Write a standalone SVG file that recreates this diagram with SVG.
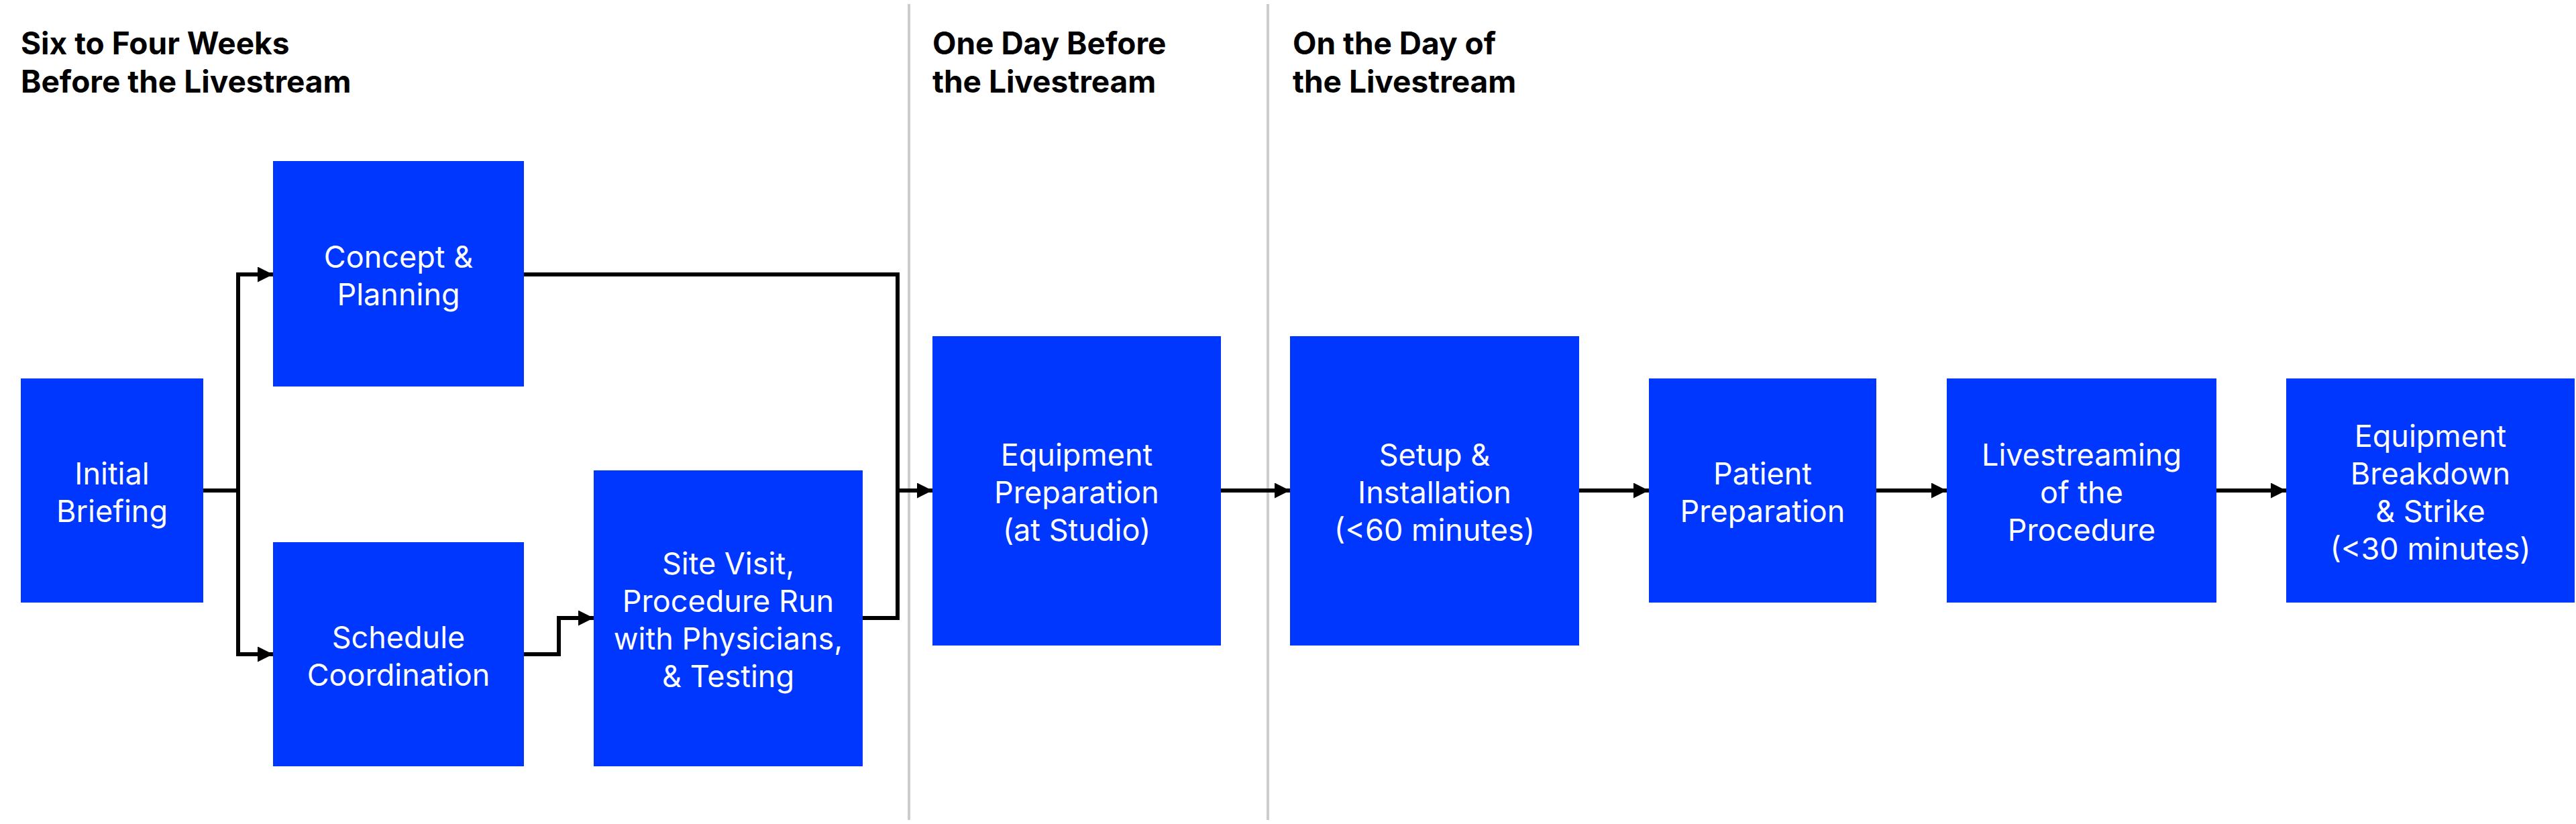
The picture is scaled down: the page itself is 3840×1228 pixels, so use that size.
<svg xmlns="http://www.w3.org/2000/svg" width="3840" height="1228" viewBox="0 0 3840 1228">
<style>
.box{fill:#0037ff}
.t{font-family:Inter,"Noto Sans","Liberation Sans",sans-serif;font-size:45px;fill:#ffffff;text-anchor:middle}
.h{font-family:Inter,"Noto Sans","Liberation Sans",sans-serif;font-size:46px;font-weight:700;fill:#000000}
.div{stroke:#cccccc;stroke-width:4;fill:none}
.c{stroke:#000000;stroke-width:6;fill:none}
</style>
<defs>
<marker id="arr" markerUnits="userSpaceOnUse" markerWidth="23" markerHeight="23" refX="23" refY="11.5" orient="auto" viewBox="0 0 23 23">
<path d="M0,0 L23,11.5 L0,23 Z" fill="#000000"/>
</marker>
</defs>
<rect width="3840" height="1228" fill="#ffffff"/>
<g id="dividers">
<line class="div" x1="1355" y1="6" x2="1355" y2="1222"/>
<line class="div" x1="1890" y1="6" x2="1890" y2="1222"/>
</g>
<g id="headers">
<text class="h" x="31" y="81">Six to Four Weeks</text>
<text class="h" x="31" y="138">Before the Livestream</text>
<text class="h" x="1390" y="81">One Day Before</text>
<text class="h" x="1390" y="138">the Livestream</text>
<text class="h" x="1927" y="81">On the Day of</text>
<text class="h" x="1927" y="138">the Livestream</text>
</g>
<g id="connectors">
<polyline class="c" points="303,731 355,731"/>
<polyline class="c" points="355,731 355,409 407,409" marker-end="url(#arr)"/>
<polyline class="c" points="355,731 355,975 407,975" marker-end="url(#arr)"/>
<polyline class="c" points="781,409 1338,409 1338,921"/>
<polyline class="c" points="781,975 833,975 833,921 885,921" marker-end="url(#arr)"/>
<polyline class="c" points="1286,921 1338,921 1338,731 1390,731" marker-end="url(#arr)"/>
<line class="c" x1="1820" y1="731" x2="1923" y2="731" marker-end="url(#arr)"/>
<line class="c" x1="2354" y1="731" x2="2458" y2="731" marker-end="url(#arr)"/>
<line class="c" x1="2797" y1="731" x2="2902" y2="731" marker-end="url(#arr)"/>
<line class="c" x1="3304" y1="731" x2="3408" y2="731" marker-end="url(#arr)"/>
</g>
<g id="initial-briefing">
<rect class="box" x="31" y="564" width="272" height="334"/>
<text class="t" x="167" y="722">Initial</text>
<text class="t" x="167" y="778">Briefing</text>
</g>
<g id="concept-planning">
<rect class="box" x="407" y="240" width="374" height="336"/>
<text class="t" x="594" y="399">Concept &amp;</text>
<text class="t" x="594" y="455">Planning</text>
</g>
<g id="schedule-coordination">
<rect class="box" x="407" y="808" width="374" height="334"/>
<text class="t" x="594" y="966">Schedule</text>
<text class="t" x="594" y="1022">Coordination</text>
</g>
<g id="site-visit">
<rect class="box" x="885" y="701" width="401" height="441"/>
<text class="t" x="1085.5" y="856">Site Visit,</text>
<text class="t" x="1085.5" y="912">Procedure Run</text>
<text class="t" x="1085.5" y="968">with Physicians,</text>
<text class="t" x="1085.5" y="1024">&amp; Testing</text>
</g>
<g id="equipment-preparation">
<rect class="box" x="1390" y="501" width="430" height="461"/>
<text class="t" x="1605" y="694">Equipment</text>
<text class="t" x="1605" y="750">Preparation</text>
<text class="t" x="1605" y="806">(at Studio)</text>
</g>
<g id="setup-installation">
<rect class="box" x="1923" y="501" width="431" height="461"/>
<text class="t" x="2138.5" y="694">Setup &amp;</text>
<text class="t" x="2138.5" y="750">Installation</text>
<text class="t" x="2138.5" y="806">(&lt;60 minutes)</text>
</g>
<g id="patient-preparation">
<rect class="box" x="2458" y="564" width="339" height="334"/>
<text class="t" x="2627.5" y="722">Patient</text>
<text class="t" x="2627.5" y="778">Preparation</text>
</g>
<g id="livestreaming">
<rect class="box" x="2902" y="564" width="402" height="334"/>
<text class="t" x="3103" y="694">Livestreaming</text>
<text class="t" x="3103" y="750">of the</text>
<text class="t" x="3103" y="806">Procedure</text>
</g>
<g id="equipment-breakdown">
<rect class="box" x="3408" y="564" width="430" height="334"/>
<text class="t" x="3623" y="666">Equipment</text>
<text class="t" x="3623" y="722">Breakdown</text>
<text class="t" x="3623" y="778">&amp; Strike</text>
<text class="t" x="3623" y="834">(&lt;30 minutes)</text>
</g>
</svg>
